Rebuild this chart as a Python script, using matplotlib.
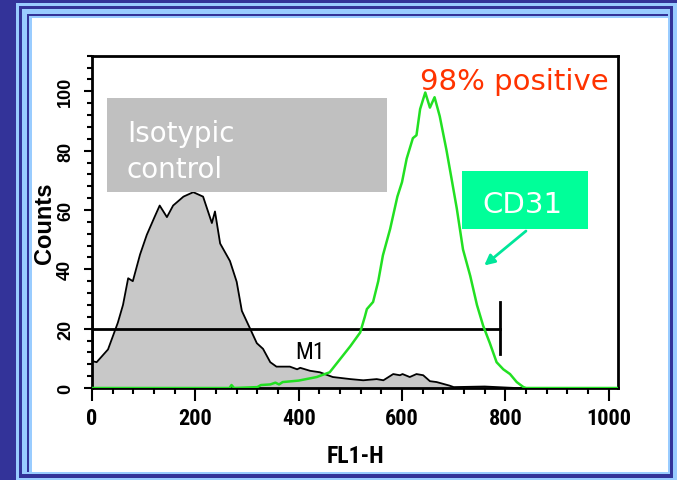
import matplotlib
matplotlib.use('Agg')
import matplotlib.pyplot as plt
from matplotlib.patches import Rectangle
from matplotlib.ticker import MultipleLocator

# isotypic control histogram (FL1-H channel, counts)
iso_x = [0, 2, 9, 31, 50, 60, 70, 79, 93, 106, 121, 131, 145, 157, 177, 196, 215, 232, 238, 248,
         267, 280, 290, 306, 319, 331, 345, 357, 383, 397, 403, 422, 441, 466, 500, 525, 551, 564,
         583, 596, 601, 615, 628, 641, 654, 667, 692, 700, 760, 820, 1020]
iso_y = [51, 9, 8.7, 13, 22, 28, 37, 36, 45, 51.6, 57.6, 61.5, 57.6, 61.5, 64.5, 66, 64.5, 55.6, 59.5, 48.7,
         42.8, 35.8, 26, 20, 15.1, 13.2, 8.7, 7.2, 7.2, 6.3, 6.8, 5.8, 5.3, 3.7, 3, 2.6, 3, 2.6,
         4.7, 4.3, 4.7, 3.7, 4.7, 4.3, 2.3, 2, 0.8, 0.3, 0.5, 0, 0]

# CD31 histogram
cd_x = [0, 266, 270, 275, 320, 327, 345, 355, 362, 369, 400, 435, 460, 480, 500, 519, 528, 532, 544,
        554, 563, 577, 591, 600, 609, 621, 628, 635, 645, 654, 663, 673, 686, 696, 706, 718, 732,
        745, 757, 770, 783, 796, 809, 822, 835, 840, 1020]
cd_y = [0, 0, 1, 0, 0.3, 1, 1.2, 1.8, 1.2, 2, 2.5, 3.7, 5.3, 9.7, 14.1, 18.7, 24, 26.6, 29,
        36, 44.7, 53.6, 64.5, 69.4, 77.3, 84.2, 85.2, 94, 99.6, 94.5, 98, 91.6, 80.2, 70.4, 60.5, 46.7, 37.8,
        28, 21, 15.1, 8.7, 6.3, 4.7, 2, 0.3, 0, 0]

# M1 gate
m1_start, m1_end, m1_level = 0, 790, 20

W, H = 677, 481
DARK = '#333399'
LIGHT = '#99ccff'
narrow = ['Roboto Condensed', 'DejaVu Sans']
wide = ['Liberation Sans', 'DejaVu Sans']

fig = plt.figure(figsize=(W / 100, H / 100), dpi=100)
fig.patch.set_facecolor(DARK)


def px_rect(x0, y0, x1, y1, color, z=0):
    r = Rectangle((x0 / W, 1 - y1 / H), (x1 - x0) / W, (y1 - y0) / H,
                  transform=fig.transFigure, facecolor=color, edgecolor='none', zorder=z)
    fig.add_artist(r)
    return r


# nested frame
px_rect(16, 4, 677, 481, LIGHT, -10)
px_rect(19, 7, 673, 479, DARK, -9)
px_rect(22, 9.5, 670, 475, LIGHT, -8)
px_rect(27, 14.7, 668, 473, DARK, -7)
px_rect(29, 16.7, 668, 473, LIGHT, -6)
px_rect(32, 19.3, 668, 473, 'white', -5)

ax = fig.add_axes([92 / W, 1 - 389 / H, (618 - 92) / W, (389 - 56.7) / H])
ax.set_facecolor('white')
ax.set_xlim(0, 1018)
ax.set_ylim(0, 112)

ax.fill_between(iso_x, iso_y, 0, color='#c8c8c8', linewidth=0, zorder=1)
ax.plot([m1_start, m1_end], [m1_level, m1_level], color='black', lw=2, zorder=2)
ax.plot([m1_end, m1_end], [11.4, 29], color='black', lw=2, zorder=2)
ax.plot(iso_x, iso_y, color='black', lw=1.3, zorder=3)
ax.plot(cd_x, cd_y, color='#22e022', lw=1.8, zorder=4)
ax.text(422, 10, 'M1', ha='center', va='baseline', fontsize=17, family=narrow, zorder=5)

for s in ax.spines.values():
    s.set_linewidth(2)
ax.xaxis.set_major_locator(MultipleLocator(200))
ax.xaxis.set_minor_locator(MultipleLocator(40))
ax.yaxis.set_major_locator(MultipleLocator(20))
ax.yaxis.set_minor_locator(MultipleLocator(4))
ax.tick_params(axis='x', which='major', length=9.5, width=1.5, pad=4)
ax.tick_params(axis='x', which='minor', length=4.5, width=1.5)
ax.tick_params(axis='y', which='major', length=6, width=1.5, pad=7)
ax.tick_params(axis='y', which='minor', length=3.6, width=1.5)
for lab in ax.get_xticklabels():
    lab.set_family(narrow)
    lab.set_fontweight('bold')
    lab.set_fontsize(16)
for lab in ax.get_yticklabels():
    lab.set_family(wide)
    lab.set_fontweight('bold')
    lab.set_fontsize(13)
    lab.set_rotation(90)
    lab.set_va('center')
ax.set_xlabel('FL1-H', family=narrow, fontweight='bold', fontsize=17, labelpad=11)
ax.set_ylabel('Counts', family=wide, fontweight='bold', fontsize=17, labelpad=1)

# annotation boxes
px_rect(107, 99, 387, 193, '#c0c0c0', 10)
fig.text(127 / W, 1 - 142 / H, 'Isotypic', color='white', fontsize=20, va='baseline', zorder=11)
fig.text(127 / W, 1 - 178 / H, 'control', color='white', fontsize=20, va='baseline', zorder=11)

fig.text(420 / W, 1 - 90 / H, '98% positive', color='#ff3300', fontsize=21, va='baseline', zorder=11)

px_rect(462, 172, 588, 230, '#00ff99', 10)
fig.text(522 / W, 1 - 213 / H, 'CD31', color='white', fontsize=21, ha='center', va='baseline', zorder=11)
ax.annotate('', xy=(755, 40.7), xytext=(844, 53.5),
            arrowprops=dict(arrowstyle='-|>', color='#00e69a', lw=2, mutation_scale=15),
            zorder=11)

fig.savefig('out.png', dpi=100, facecolor=fig.get_facecolor())
